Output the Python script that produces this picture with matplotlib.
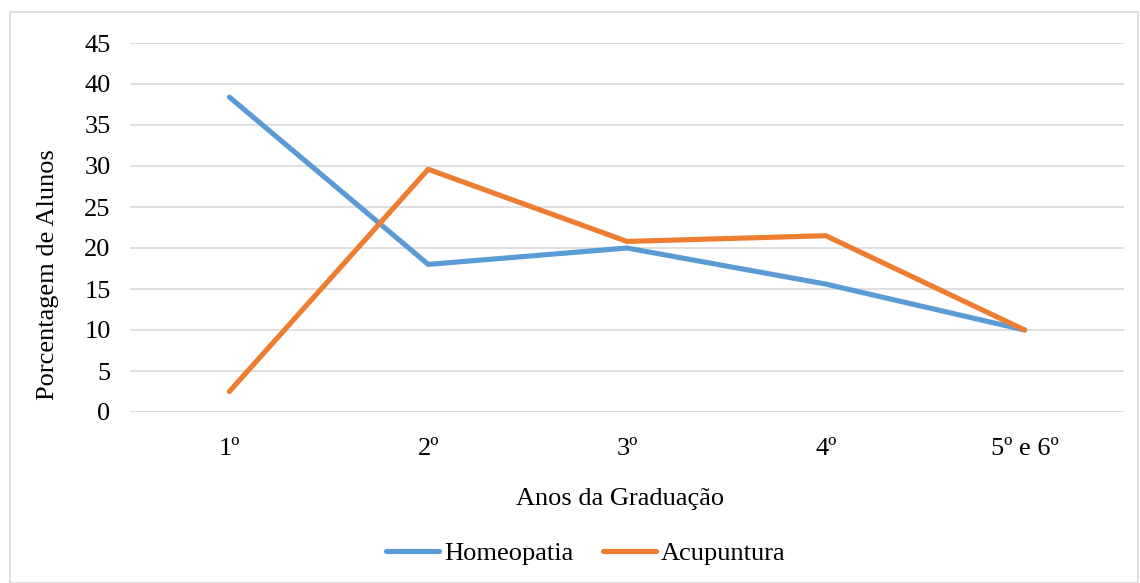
import matplotlib
matplotlib.use("Agg")
import matplotlib.pyplot as plt
from matplotlib.patches import Rectangle

categories = ["1º", "2º", "3º", "4º", "5º e 6º"]
homeopatia = [38.4, 18.0, 20.0, 15.6, 10.0]
acupuntura = [2.5, 29.6, 20.8, 21.5, 10.0]
yticks = [0, 5, 10, 15, 20, 25, 30, 35, 40, 45]

plt.rcParams['font.family'] = ['Liberation Serif', 'DejaVu Serif']
FS = 19
W, H = 1140, 583

fig = plt.figure(figsize=(11.4, 5.83), dpi=100)
fig.patches.append(Rectangle((10/W, 0.0), 1128/W, 1 - 12/H, transform=fig.transFigure,
                             fill=False, edgecolor="#d9d9d9", linewidth=1.2))
ax = fig.add_axes([130/W, 1 - 412/H, (1124 - 130)/W, (412 - 43)/H])

x = list(range(len(categories)))
ax.plot(x, homeopatia, color="#5b9bd5", linewidth=3.7, solid_capstyle="round",
        solid_joinstyle="round", label="Homeopatia", zorder=3)
ax.plot(x, acupuntura, color="#ed7d31", linewidth=3.7, solid_capstyle="round",
        solid_joinstyle="round", label="Acupuntura", zorder=3)

ax.set_xlim(-0.5, len(categories) - 0.5)
ax.set_ylim(0, 45)
ax.set_yticks(yticks)
ax.set_xticks(x)
ax.set_xticklabels(categories)
ax.tick_params(axis="both", length=0, labelsize=FS, colors="#000000")
ax.tick_params(axis="x", pad=19)
ax.tick_params(axis="y", pad=14)
ax.grid(axis="y", color="#d9d9d9", linewidth=1.2)
ax.set_axisbelow(True)
for s in ax.spines.values():
    s.set_visible(False)

fig.text(620/W, 1 - 499/H, "Anos da Graduação", fontsize=FS, ha="center", va="center")
fig.text(48/W, 1 - 275/H, "Porcentagem de Alunos", fontsize=FS, ha="center", va="center",
         rotation=90)

fig.legend(loc="center", bbox_to_anchor=(586/W, 1 - 553/H), ncol=2, frameon=False,
           fontsize=FS, handlelength=2.0, columnspacing=1.1, handletextpad=0.2)

fig.savefig("out.png", dpi=100)
